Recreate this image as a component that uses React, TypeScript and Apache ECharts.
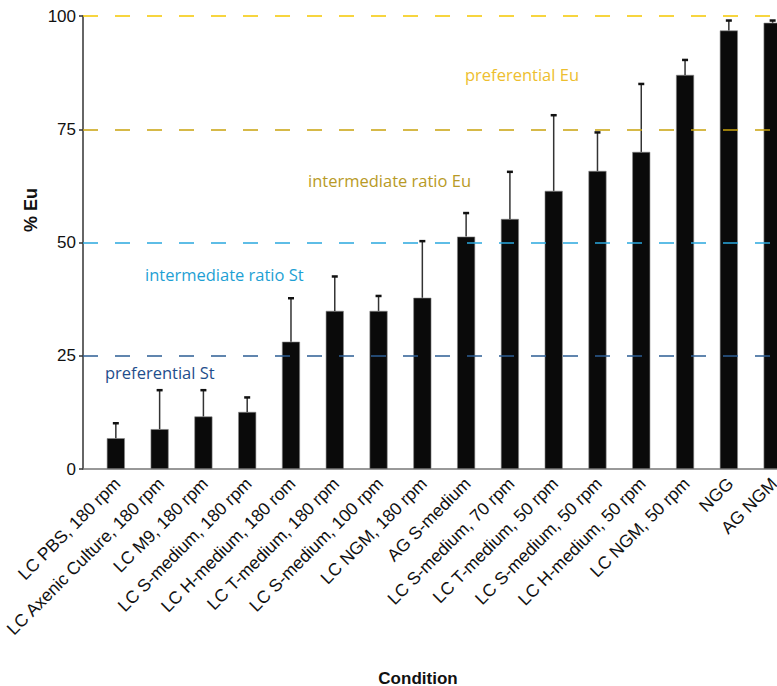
import React, { useEffect, useRef } from "react";
import * as echarts from "echarts";

const categories: string[] = [
  "LC PBS, 180 rpm",
  "LC Axenic Culture, 180 rpm",
  "LC M9, 180 rpm",
  "LC S-medium, 180 rpm",
  "LC H-medium, 180 rom",
  "LC T-medium, 180 rpm",
  "LC S-medium, 100 rpm",
  "LC NGM, 180 rpm",
  "AG S-medium",
  "LC S-medium, 70 rpm",
  "LC T-medium, 50 rpm",
  "LC S-medium, 50 rpm",
  "LC H-medium, 50 rpm",
  "LC NGM, 50 rpm",
  "NGG",
  "AG NGM",
];
const meanEu: number[] = [6.8, 8.8, 11.6, 12.6, 28.1, 34.9, 34.9, 37.8, 51.3, 55.2, 61.4, 65.8, 70.0, 87.0, 96.8, 98.5];
const errEu: number[] = [3.3, 8.6, 5.8, 3.2, 9.6, 7.6, 3.3, 12.5, 5.2, 10.4, 16.7, 8.5, 15.0, 3.3, 2.2, 0.5];
const yTicks: number[] = [0, 25, 50, 75, 100];
const thresholds = [
  { value: 100, color: "#F5C800" },
  { value: 75, color: "#C9A30C" },
  { value: 50, color: "#2AA8DE" },
  { value: 25, color: "#2C5E94" },
];
const annotations = [
  { text: "preferential Eu", x: 465, y: 77, color: "#EDBE2E" },
  { text: "intermediate ratio Eu", x: 308, y: 183, color: "#B89A26" },
  { text: "intermediate ratio St", x: 145, y: 277, color: "#1E9FD4" },
  { text: "preferential St", x: 105, y: 375, color: "#1F4E8C" },
];

export default function App() {
  const ref = useRef<HTMLDivElement>(null);
  useEffect(() => {
    if (!ref.current) return;
    const chart = echarts.init(ref.current, undefined, { renderer: "svg" });
    const barData = meanEu.map((v, i) => [i, v]);
    const errData = meanEu.map((v, i) => [i, v, errEu[i]]);
    chart.setOption({
      animation: false,
      backgroundColor: "#ffffff",
      grid: {
        left: 83,
        right: 0,
        top: 16,
        bottom: 217,
        containLabel: false,
        outerBoundsMode: "none",
      },
      xAxis: {
        type: "value",
        min: -0.75,
        max: 15.1,
        axisLine: { show: true, onZero: false, lineStyle: { color: "#777777", width: 1.5 } },
        axisTick: { show: false },
        splitLine: { show: false },
        axisLabel: {
          customValues: categories.map((_, i) => i),
          formatter: (v: number) => categories[Math.round(v)] ?? "",
          rotate: 45,
          margin: 13,
          padding: [4, -2, 0, 0],
          fontSize: 17.5,
          color: "#111111",
          fontFamily: "Liberation Sans, Arial, sans-serif",
        },
      },
      yAxis: {
        type: "value",
        min: 0,
        max: 100,
        interval: 25,
        axisLine: { show: true, onZero: false, lineStyle: { color: "#333333", width: 1.5 } },
        axisTick: { show: true, length: 4, lineStyle: { color: "#333333", width: 1.5 } },
        splitLine: { show: false },
        axisLabel: {
          customValues: yTicks,
          fontSize: 17,
          color: "#111111",
          margin: 7,
          fontFamily: "Liberation Sans, Arial, sans-serif",
        },
      },
      series: [
        {
          type: "bar",
          data: barData,
          barWidth: 18,
          z: 2,
          itemStyle: { color: "#0a0a0a", borderColor: "#888888", borderWidth: 0.6 },
          markLine: {
            silent: true,
            symbol: "none",
            z: 5,
            label: { show: false },
            data: thresholds.map((t) => ({
              yAxis: t.value,
              lineStyle: { color: t.color, type: [15, 17], width: 1.5 },
            })),
          },
        },
        {
          type: "custom",
          z: 3,
          data: errData,
          encode: { x: 0, y: 1 },
          renderItem: (params: any, api: any) => {
            const i = api.value(0);
            const v = api.value(1);
            const e = api.value(2);
            const p0 = api.coord([i, v]);
            const p1 = api.coord([i, v + e]);
            return {
              type: "group",
              children: [
                {
                  type: "line",
                  shape: { x1: p0[0], y1: p0[1], x2: p1[0], y2: p1[1] },
                  style: { stroke: "#333333", lineWidth: 1.5 },
                },
                {
                  type: "line",
                  shape: { x1: p1[0] - 3, y1: p1[1], x2: p1[0] + 3, y2: p1[1] },
                  style: { stroke: "#111111", lineWidth: 2.5 },
                },
              ],
            };
          },
        },
      ],
      graphic: [
        ...annotations.map((a) => ({
          type: "text",
          left: a.x,
          top: a.y - 11,
          z: 10,
          style: {
            text: a.text,
            fill: a.color,
            fontSize: 16.5,
            fontWeight: 500,
            fontFamily: "Open Sans, sans-serif",
          },
        })),
        {
          type: "text",
          x: 31,
          y: 210,
          rotation: Math.PI / 2,
          style: {
            text: "% Eu",
            fill: "#111111",
            fontSize: 18,
            fontWeight: "bold",
            fontFamily: "Liberation Sans, Arial, sans-serif",
            align: "center",
            verticalAlign: "middle",
          },
        },
        {
          type: "text",
          x: 418,
          y: 678,
          style: {
            text: "Condition",
            fill: "#111111",
            fontSize: 17,
            fontWeight: "bold",
            fontFamily: "Liberation Sans, Arial, sans-serif",
            align: "center",
            verticalAlign: "middle",
          },
        },
      ],
    });
    return () => chart.dispose();
  }, []);
  return (
    <div
      ref={ref}
      style={{ position: "fixed", left: 0, top: 0, width: 777, height: 686, background: "#fff" }}
    />
  );
}
